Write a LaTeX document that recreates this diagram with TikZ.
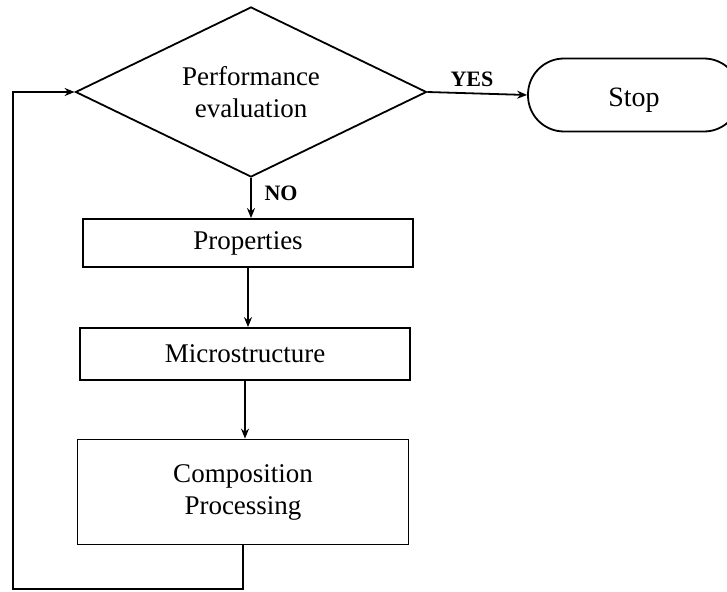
\documentclass[tikz,border=0pt]{standalone}
\usepackage{fontspec}
\setmainfont{Liberation Serif}
\usetikzlibrary{shapes.geometric,arrows.meta}
\begin{document}
\begin{tikzpicture}[x=1pt,y=-1pt,
  line width=1.8pt,
  arr/.style={-{Stealth[length=10pt,width=8pt]}},
  box/.style={draw,rectangle,inner sep=0pt,align=center,font=\fontsize{27}{32}\selectfont},
  lbl/.style={font=\fontsize{22}{26}\selectfont\bfseries,inner sep=0pt}]
\useasboundingbox (0,0) rectangle (727,591);
\node[draw,diamond,shape aspect=2.06,inner sep=0pt,minimum width=351pt,minimum height=170pt,align=center,font=\fontsize{27}{32}\selectfont] (dia) at (251,92) {Performance\\evaluation};
\node[draw,rectangle,rounded corners=36pt,minimum width=212pt,minimum height=73pt,inner sep=0pt,font=\fontsize{28}{32}\selectfont] (stop) at (634,95) {\raisebox{-12pt}[0pt][0pt]{Stop}};
\node[box,minimum width=330pt,minimum height=48pt] (props) at (248,243) {Properties};
\node[box,minimum width=330pt,minimum height=52pt] (micro) at (245,354) {Microstructure};
\node[box,minimum width=331pt,minimum height=105pt] (comp) at (243,492) {Composition\\Processing};
\coordinate (lb) at (13,589);
\draw[arr] (dia.east) -- (stop.west);
\node[lbl] (yes) at (472,79) {YES};
\draw[arr] (dia.south) -- (dia.south |- props.north);
\node[lbl] (no) at (281,193) {NO};
\draw[arr] (props.south) -- (props.south |- micro.north);
\draw[arr] (micro.south) -- (micro.south |- comp.north);
\draw[arr] (comp.south) |- (lb) |- (dia.west);
\end{tikzpicture}
\end{document}
